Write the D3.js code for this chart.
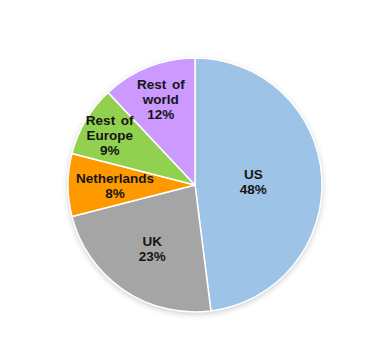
<!DOCTYPE html>
<html><head><meta charset="utf-8">
<script src="https://cdn.jsdelivr.net/npm/d3@7"></script>
<style>body{margin:0;background:#fff}svg{display:block}</style>
</head><body>
<svg id="c" width="390" height="360"></svg>
<script>
const categories = ["US", "UK", "Netherlands", "Rest of Europe", "Rest of world"];
const values = [48, 23, 8, 9, 12];
const colors = ["#9dc3e6", "#a5a5a5", "#ff9900", "#92d050", "#cc99ff"];
const labelLines = [["US"], ["UK"], ["Netherlands"], ["Rest of", "Europe"], ["Rest of", "world"]];
// label distance from centre, as a fraction of the radius (layout only)
const labelRadius = [0.46, 0.6, 0.63, 0.78, 0.73];

const svg = d3.select("#c");
const cx = 195, cy = 185, r = 127;
const defs = svg.append("defs");
const f = defs.append("filter").attr("id","sh").attr("x","-20%").attr("y","-20%").attr("width","140%").attr("height","140%");
f.append("feGaussianBlur").attr("in","SourceAlpha").attr("stdDeviation",3).attr("result","b");
f.append("feOffset").attr("in","b").attr("dx",0).attr("dy",2).attr("result","o");
f.append("feComponentTransfer").attr("in","o").attr("result","s").append("feFuncA").attr("type","linear").attr("slope",0.22);
const m = f.append("feMerge"); m.append("feMergeNode").attr("in","s"); m.append("feMergeNode").attr("in","SourceGraphic");

const data = categories.map((c,i)=>({cat:c, value:values[i], color:colors[i], lines:labelLines[i], lr:labelRadius[i]}));
const pie = d3.pie().sort(null).value(d=>d.value);
const arcs = pie(data);
const arc = d3.arc().innerRadius(0).outerRadius(r);
const g = svg.append("g").attr("transform",`translate(${cx},${cy})`);
g.append("circle").attr("r", r).attr("fill","#fff").attr("filter","url(#sh)");
g.selectAll("path").data(arcs).join("path")
  .attr("d", arc).attr("fill", d=>d.data.color)
  .attr("stroke","#fff").attr("stroke-width",1.5).attr("stroke-linejoin","round");

const lh = 15;
const lg = g.selectAll("text").data(arcs).join("text")
  .attr("transform", d=>{
    const la = d3.arc().innerRadius(r*d.data.lr).outerRadius(r*d.data.lr);
    const [x,y]=la.centroid(d); return `translate(${x},${y})`;})
  .attr("text-anchor","middle")
  .attr("font-family","'Liberation Sans', Arial, sans-serif")
  .attr("font-weight","bold").attr("font-size",13.5).attr("fill","#151515")
  .attr("word-spacing", 2);
lg.each(function(d){
  const lines = d.data.lines.concat([d.data.value + "%"]);
  const t = d3.select(this);
  const y0 = -(lines.length-1)*lh/2 + 5;
  lines.forEach((l,i)=>t.append("tspan").attr("x",0).attr("y", y0 + i*lh).text(l));
});
</script>
</body></html>
